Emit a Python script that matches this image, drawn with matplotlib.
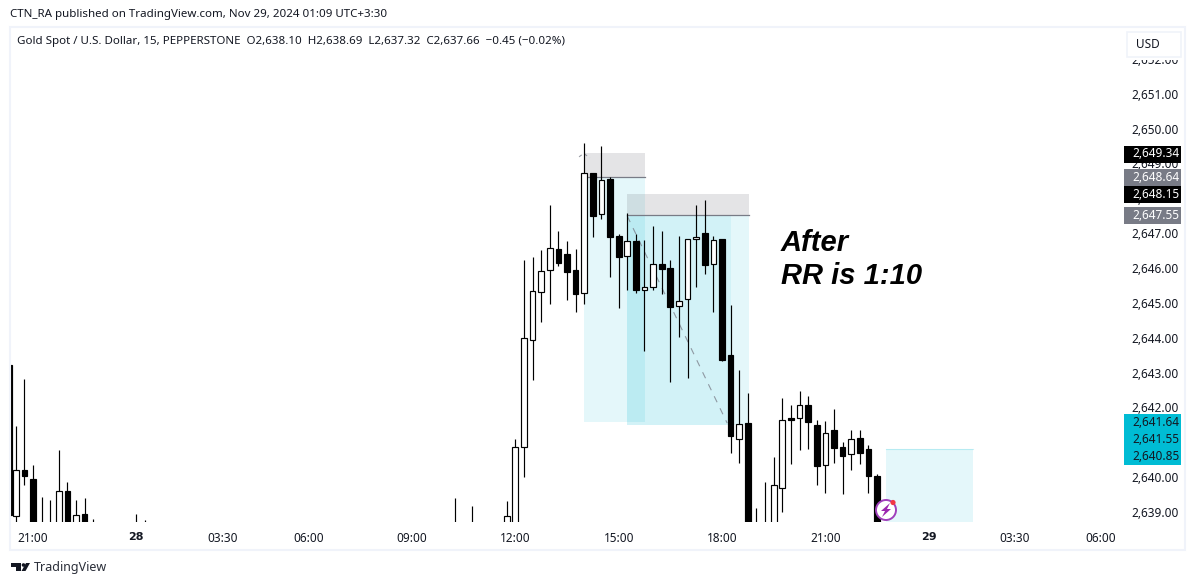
import matplotlib
matplotlib.use('Agg')
import numpy as np
import matplotlib.pyplot as plt
from matplotlib.patches import Rectangle, Circle, Polygon

plt.rcParams['font.family'] = ['Noto Sans', 'DejaVu Sans']

# candle number 0 is the 12:00 bar, the first one is cut by the left edge
idx = [-58.75, -58, -57, -56, -55, -54, -53, -52, -51, -50, -49, -44, -43, -7, -5, -1,
       0, 1, 2, 3, 4, 5, 6, 7, 8, 9, 10, 11, 12, 13, 14, 15, 16, 17, 18, 19, 20,
       21, 22, 23, 24, 25, 26, 27, 28, 29, 30, 31, 32, 33, 34, 35, 36, 37, 38, 39, 40, 41, 42]
opens = [2643.22, 2638.88, 2640.20, 2639.95, 2638.55, 2638.55, 2638.50, 2639.59, 2638.50, 2638.94, 2638.55, 2638.55, 2638.55, 2638.55, 2638.55, 2638.50,
         2638.50, 2640.86, 2643.93, 2645.30, 2645.94, 2646.54, 2646.40, 2645.94, 2645.29, 2648.72, 2647.54, 2648.55, 2646.91, 2646.34, 2646.77, 2645.38, 2645.45, 2646.11, 2645.99, 2644.90, 2645.10,
         2646.82, 2647.00, 2646.11, 2646.82, 2643.50, 2641.09, 2641.55, 2638.60, 2638.45, 2638.50, 2639.68, 2641.70, 2641.69, 2642.06, 2641.49, 2640.34, 2641.34, 2640.86, 2640.66, 2641.11, 2640.80, 2640.03]
highs = [2643.22, 2641.47, 2642.82, 2640.35, 2639.44, 2639.34, 2640.78, 2639.86, 2639.34, 2639.40, 2638.80, 2638.94, 2638.77, 2639.40, 2639.17, 2639.31,
         2641.09, 2646.23, 2646.32, 2646.52, 2647.81, 2647.06, 2646.78, 2646.54, 2649.58, 2648.72, 2649.50, 2648.60, 2646.98, 2647.57, 2646.98, 2646.80, 2647.20, 2647.06, 2646.22, 2646.91, 2646.82,
         2647.81, 2647.94, 2646.91, 2646.82, 2644.94, 2643.07, 2642.41, 2639.11, 2639.86, 2640.58, 2642.26, 2642.06, 2642.47, 2642.33, 2641.63, 2641.61, 2641.95, 2641.00, 2641.34, 2641.34, 2640.91, 2640.08]
lows = [2638.91, 2638.30, 2639.77, 2638.30, 2638.30, 2638.30, 2638.30, 2638.30, 2638.30, 2638.30, 2638.30, 2638.30, 2638.30, 2638.30, 2638.30, 2638.30,
        2638.30, 2640.01, 2642.79, 2644.46, 2644.98, 2646.06, 2645.09, 2644.75, 2644.98, 2646.90, 2647.42, 2645.75, 2644.86, 2645.38, 2645.29, 2643.63, 2645.38, 2645.26, 2642.74, 2644.03, 2642.85,
        2645.46, 2645.84, 2644.75, 2643.34, 2640.70, 2640.41, 2638.30, 2638.30, 2638.30, 2638.30, 2639.01, 2640.38, 2640.78, 2640.81, 2639.78, 2639.55, 2640.41, 2639.53, 2640.20, 2640.37, 2639.55, 2638.30]
closes = [2638.91, 2640.20, 2640.04, 2638.45, 2638.40, 2638.40, 2639.59, 2638.50, 2638.91, 2638.50, 2638.40, 2638.40, 2638.40, 2638.40, 2638.40, 2638.88,
          2640.86, 2643.98, 2645.33, 2645.91, 2646.57, 2646.15, 2645.90, 2645.26, 2648.72, 2647.50, 2648.52, 2646.90, 2646.33, 2646.77, 2645.38, 2645.45, 2646.11, 2645.96, 2644.89, 2645.05, 2646.82,
          2646.90, 2646.10, 2646.80, 2643.37, 2641.19, 2641.52, 2638.50, 2638.45, 2638.60, 2639.77, 2641.63, 2641.65, 2642.06, 2641.59, 2640.33, 2641.26, 2640.85, 2640.62, 2641.09, 2640.70, 2640.04, 2638.40]

time_ticks = [-56, -44, -34, -24, -12, 0, 12, 24, 36, 48, 58, 68]
time_labels = ['21:00', '28', '03:30', '06:00', '09:00', '12:00', '15:00', '18:00', '21:00', '29', '03:30', '06:00']
price_ticks = list(range(2639, 2653))
price_labels = [f'{p:,.2f}' for p in price_ticks]

# position tools: start, end, stop, entry, target
long1 = [7.94, 15.1, 2649.29, 2648.60, 2641.57]
long2 = [12.97, 27.13, 2648.12, 2647.51, 2641.50]
long2_closed = 25.1
target3 = [43.0, 53.1, 2640.81, 2638.3]
path_x = [13.0, 24.6]
path_y = [2647.49, 2641.55]
peak_x = [7.4, 7.94, 8.65]
peak_y = [2649.19, 2649.29, 2649.16]

tag_text = ['2,649.34', '2,648.64', '2,648.15', '2,647.55', '2,641.64', '2,641.55', '2,640.85']
tag_color = ['black', '#787b86', 'black', '#787b86', '#00bcd4', '#00bcd4', '#00bcd4']
tag_fg = ['white', 'white', 'white', 'white', '#131722', '#131722', '#131722']
tag_top = [145.5, 169, 186, 207, 414, 431, 448]

W, H = 1195, 585
fig = plt.figure(figsize=(W / 100, H / 100), dpi=100, facecolor='white')

ax = fig.add_axes([10.5 / W, 1 - 522 / H, (1122 - 10.5) / W, (522 - 28) / H])
ax.set_xlim(-58.61, 70.44)
ax.set_ylim(2638.713, 2652.888)
for s in ax.spines.values():
    s.set_visible(False)

ax.yaxis.tick_right()
ax.set_yticks(price_ticks, price_labels, fontsize=8.5, color='#131722')
ax.tick_params(axis='y', length=0, pad=7)
ax.set_xticks(time_ticks, time_labels, fontsize=8.5, color='#131722')
ax.tick_params(axis='x', length=0, pad=7)
for t in ax.get_xticklabels():
    if t.get_text() in ('28', '29'):
        t.set_fontfamily('DejaVu Sans')
        t.set_fontsize(8)
        t.set_fontweight('bold')

cyan = '#00bcd4'
gray = '#787b86'
for pos in (long1, long2):
    x0, x1, stop, entry, tgt = pos
    ax.add_patch(Rectangle((x0, stop), x1 - x0, entry - stop, fc=gray, alpha=0.2, lw=0, zorder=1))
    ax.add_patch(Rectangle((x0, tgt), x1 - x0, entry - tgt, fc=cyan, alpha=0.105, lw=0, zorder=1))
    ax.plot([x0, x1], [entry, entry], color=gray, lw=0.9, zorder=1.5)
ax.add_patch(Rectangle((long2[0], long2[4]), long2_closed - long2[0], long2[3] - long2[4], fc=cyan, alpha=0.08, lw=0, zorder=1))
ax.add_patch(Rectangle((target3[0], target3[3]), target3[1] - target3[0], target3[2] - target3[3], fc=cyan, alpha=0.105, lw=0, zorder=1))
ax.plot(target3[:2], [target3[2], target3[2]], color=cyan, alpha=0.2, lw=0.8, zorder=1.5)
ax.plot(path_x, path_y, color=gray, lw=0.8, alpha=0.75, ls=(0, (6, 6)), zorder=1.6)
ax.plot(peak_x, peak_y, color=gray, lw=0.8, alpha=0.75, ls=(0, (3, 3)), zorder=1.6)

o = np.array(opens)
c = np.array(closes)
ax.vlines(idx, lows, highs, color='black', lw=0.85, zorder=3)
colors = ['white' if b >= a else 'black' for a, b in zip(opens, closes)]
ax.bar(idx, np.abs(c - o), bottom=np.minimum(o, c), width=0.66, color=colors,
       edgecolor='black', linewidth=0.85, zorder=4)

# everything around the chart in plain pixel positions
top = fig.add_axes([0, 0, 1, 1], zorder=5)
top.set_xlim(0, W)
top.set_ylim(H, 0)
top.axis('off')

top.add_patch(Rectangle((10, 27), 1175, 523, fc='none', ec='#f0f3fa', lw=1.5))
top.text(10, 14.5, 'CTN_RA published on TradingView.com, Nov 29, 2024 01:09 UTC+3:30',
         fontsize=8.3, color='#131722', va='center')
top.text(17, 41.5, 'Gold Spot / U.S. Dollar, 15, PEPPERSTONE  O2,638.10  H2,638.69  L2,637.32  C2,637.66  \u22120.45 (\u22120.02%)',
         fontsize=8.3, color='#131722', va='center')

# the button hides the upper half of the top price label
top.add_patch(Rectangle((1124, 29), 58, 31, fc='white', lw=0, zorder=2))
top.add_patch(Rectangle((1127, 32), 54, 25, fc='white', ec='#f0f3fa', lw=1.2, zorder=3))
top.text(1136, 44, 'USD', fontsize=8.5, color='#131722', va='center', zorder=4)

for txt, col, fg, y in zip(tag_text, tag_color, tag_fg, tag_top):
    top.add_patch(Rectangle((1124, y), 57, 17, fc=col, lw=0, zorder=3))
    top.text(1132, y + 8.3, txt, fontsize=8.5, color=fg, va='center', zorder=4)

top.text(781, 251, 'After', fontsize=21, family='Liberation Sans', fontweight='bold', fontstyle='italic', color='black')
top.text(781, 284, 'RR is 1:10', fontsize=21, family='Liberation Sans', fontweight='bold', fontstyle='italic', color='black')

# alert icon
top.add_patch(Circle((886, 510), 10, fc='white', ec='#a040bc', lw=1.4, zorder=3))
top.add_patch(Polygon([[890, 503], [881, 511], [885, 511], [882, 517], [891, 509], [887, 509]], fc='#9c27b0', lw=0, zorder=4))
top.add_patch(Circle((893, 502.5), 2.6, fc='#f23645', lw=0, zorder=4))

# TradingView logo
top.add_patch(Polygon([[11, 563], [21, 563], [21, 571], [16.5, 571], [16.5, 566.5], [11, 566.5]], fc='#131722', lw=0))
top.add_patch(Circle((23.5, 565), 1.8, fc='#131722', lw=0))
top.add_patch(Polygon([[26, 563], [30, 563], [25.5, 571], [21.5, 571]], fc='#131722', lw=0))
top.text(33.5, 567, 'TradingView', fontsize=9.0, color='#2a2e39', va='center')

fig.savefig('out.png', dpi=100)
